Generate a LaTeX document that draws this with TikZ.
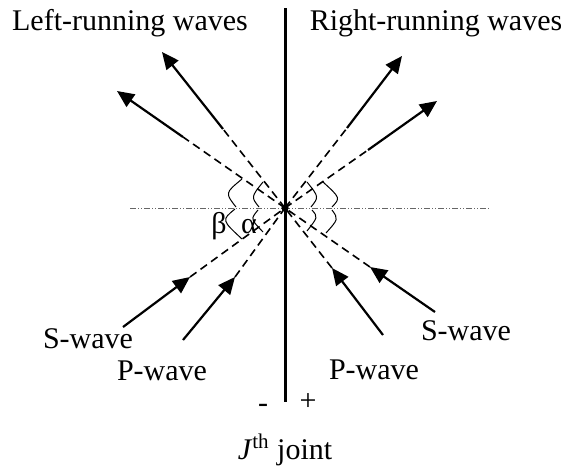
\documentclass[tikz,border=0pt]{standalone}
\usepackage{fontspec}
\setmainfont{Liberation Serif}
\usetikzlibrary{arrows.meta}

\begin{document}
\begin{tikzpicture}[
  x=0.5pt, y=-0.5pt,
  font=\fontsize{15}{18}\selectfont,
  lbl/.style ={anchor=base, inner sep=0pt},
  wave/.style={-{Triangle[length=8.5pt,width=7.5pt]}, line width=1.1pt},
  ray/.style ={line width=0.8pt, dash pattern=on 4pt off 2.5pt},
  joint/.style={line width=1.5pt},
  axis/.style={line width=0.5pt, black!60,
               dash pattern=on 3pt off 1pt on 0.5pt off 1pt on 0.5pt off 1pt},
  ang/.style ={line width=0.5pt},
]
\useasboundingbox (0,0) rectangle (561,466);

\coordinate (O) at (285,208);
\coordinate (axL) at (130,208);
\coordinate (axR) at (490,208);
\coordinate (jtop) at (285,8);
\coordinate (jbot) at (285,402);

% reflected / transmitted waves
\coordinate (lPs) at (223,129); \coordinate (lPe) at (162,52);
\coordinate (lSs) at (183,137); \coordinate (lSe) at (117,91);
\coordinate (rPs) at (347,128); \coordinate (rPe) at (402,56);
\coordinate (rSs) at (368,150); \coordinate (rSe) at (437,101);
% incident waves
\coordinate (iSLs) at (123,327); \coordinate (iSLe) at (190,277);
\coordinate (iPLs) at (183,340); \coordinate (iPLe) at (235,277);
\coordinate (iPRs) at (383,335); \coordinate (iPRe) at (332,268);
\coordinate (iSRs) at (435,312); \coordinate (iSRe) at (370,267);

\draw[axis] (axL) -- (axR);
\draw[joint] (jtop) -- (jbot);

\draw[ray] (O) -- (lPs);  \draw[wave] (lPs) -- (lPe);
\draw[ray] (O) -- (lSs);  \draw[wave] (lSs) -- (lSe);
\draw[ray] (O) -- (rPs);  \draw[wave] (rPs) -- (rPe);
\draw[ray] (O) -- (rSs);  \draw[wave] (rSs) -- (rSe);

\draw[ray] (iSLe) -- (O); \draw[wave] (iSLs) -- (iSLe);
\draw[ray] (iPLe) -- (O); \draw[wave] (iPLs) -- (iPLe);
\draw[ray] (iPRe) -- (O); \draw[wave] (iPRs) -- (iPRe);
\draw[ray] (iSRe) -- (O); \draw[wave] (iSRs) -- (iSRe);

\fill (O) circle (1.8pt);

% angle marks
\draw[ang] (242,179) .. controls (225,193) .. (236,207);
\draw[ang] (235,209) .. controls (221.5,220) .. (242,239);
\draw[ang] (263,182) .. controls (251,197) .. (259,207);
\draw[ang] (258,210) .. controls (250.5,219) .. (263,232);
\draw[ang] (307,182) .. controls (319,197) .. (311,207);
\draw[ang] (312,210) .. controls (318,217) .. (307,231);
\draw[ang] (323,182) .. controls (340.5,198) .. (332,207);
\draw[ang] (332,210) .. controls (338.5,219) .. (326,233);

\node[lbl] (beta)  at (219,233) {β};
\node[lbl] (alpha) at (249,233) {α};

\node[lbl] (lrun) at (130,30) {Left-running waves};
\node[lbl] (rrun) at (436,30) {Right-running waves};
\node[lbl] (sL) at (88,348)  {S-wave};
\node[lbl] (pL) at (162,380) {P-wave};
\node[lbl] (pR) at (374,379) {P-wave};
\node[lbl] (sR) at (466,340) {S-wave};
\node[lbl] (minus) at (263,412) {-};
\node[lbl] (plus)  at (308,410) {+};
\node[lbl] (jlbl)  at (285,459) {\textit{J}\textsuperscript{th} joint};

\end{tikzpicture}
\end{document}
